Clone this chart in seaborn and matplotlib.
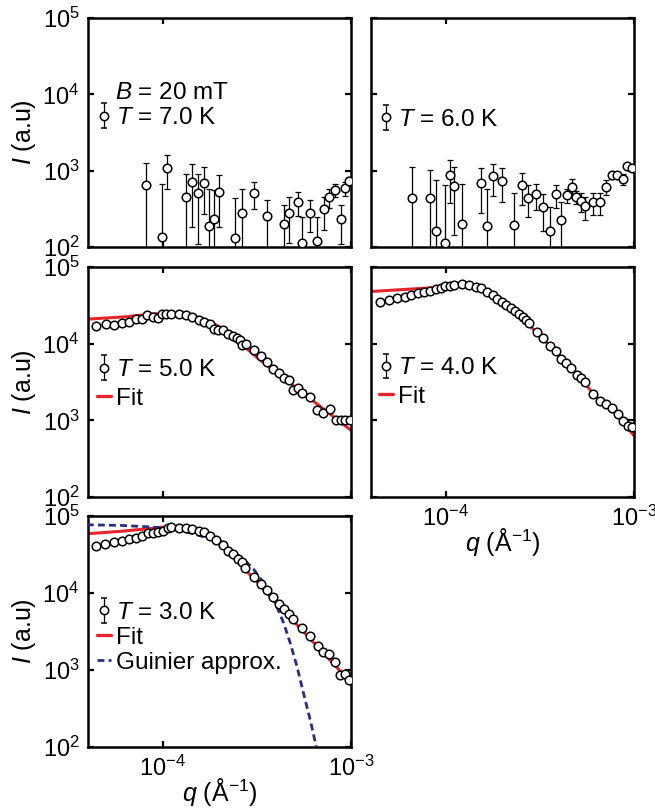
import numpy as np
import matplotlib
matplotlib.use("Agg")
import matplotlib.pyplot as plt
import seaborn as sns
from matplotlib.lines import Line2D
from matplotlib.ticker import NullLocator, FixedLocator

# ---------------- data (q in units of 1e-4 1/Angstrom) ----------------
q_7K = [0.818, 0.989, 1.047, 1.321, 1.432, 1.542, 1.660, 1.750, 1.871, 1.995, 2.421, 2.649, 3.041,
        3.573, 4.395, 4.677, 5.248, 5.495, 6.053, 6.607, 7.145, 7.674, 8.222, 8.810, 9.333, 9.795]
I_7K = [643, 135, 1084, 452, 708, 510, 693, 188, 230, 525, 131, 279, 515,
        255, 198, 282, 389, 114, 282, 119, 310, 452, 564, 230, 590, 725]
err_7K = [616, 541, 505, 460, 525, 402, 424, 393, 322, 344, 312, 302, 196,
          162, 154, 170, 136, 133, 126, 128, 142, 129, 112, 122, 121, 101]

q_6K = [0.659, 0.822, 0.889, 0.991, 1.047, 1.104, 1.216, 1.542, 1.652, 1.770, 1.986, 2.307, 2.535,
        2.742, 3.020, 3.281, 3.573, 3.846, 4.102, 4.406, 4.656, 4.909, 5.200, 5.508, 6.026, 6.561,
        7.129, 7.638, 8.147, 8.750, 9.226, 9.772]
I_6K = [434, 434, 160, 114, 887, 631, 198, 682, 188, 851, 732, 194, 645,
        443, 490, 331, 160, 490, 226, 477, 618, 452, 400, 340, 389, 389,
        611, 871, 871, 777, 1140, 1090]
err_6K = [683, 597, 587, 528, 506, 486, 478, 401, 393, 385, 340, 321, 286,
          199, 186, 169, 174, 166, 163, 104, 167, 85, 115, 112, 126, 126,
          136, 90, 80, 135, 60, 60]

q_5K = [0.440, 0.497, 0.548, 0.605, 0.661, 0.718, 0.773, 0.822, 0.885, 0.940, 0.991, 1.042, 1.107,
        1.211, 1.321, 1.429, 1.549, 1.656, 1.774, 1.871, 1.972, 2.089, 2.213, 2.350, 2.477, 2.582,
        2.649, 2.754, 3.041, 3.327, 3.581, 3.855, 4.130, 4.416, 4.710, 4.932, 5.236, 5.508, 6.053,
        6.622, 7.129, 7.727, 8.318, 8.810, 9.333, 9.840]
I_5K = [16800, 18200, 17500, 18400, 19200, 21200, 20700, 23700, 22300, 21800, 24100, 24600, 24600,
        24600, 23700, 22300, 20600, 19400, 18200, 15500, 15300, 15300, 13500, 12600, 12000, 11000,
        9500, 9800, 8330, 6960, 5700, 4720, 4100, 3530, 3320, 2510, 2630, 2280, 2010,
        1380, 1250, 1410, 1020, 1000, 1000, 1000]
qfit_5K = [0.398, 0.631, 0.891, 1.122, 1.413, 1.778, 2.239, 2.692, 3.162, 3.981, 5.012, 6.310, 7.943, 10.0]
Ifit_5K = [20900, 22400, 24500, 25100, 24000, 19500, 14100, 9330, 6610, 4270, 2750, 1780, 1150, 741]

q_4K = [0.444, 0.498, 0.551, 0.603, 0.655, 0.710, 0.764, 0.822, 0.881, 0.938, 0.995, 1.050, 1.107,
        1.222, 1.324, 1.439, 1.542, 1.660, 1.770, 1.875, 1.986, 2.094, 2.218, 2.339, 2.443, 2.559,
        2.667, 2.773, 3.062, 3.281, 3.556, 3.846, 4.074, 4.345, 4.645, 4.955, 5.200, 5.495, 6.026,
        6.561, 7.129, 7.674, 8.222, 8.770, 9.290, 9.795]
I_4K = [34800, 37600, 39200, 40800, 43400, 45200, 47000, 48900, 50900, 53500, 55800, 56900, 57500,
        59900, 58700, 54700, 53100, 47500, 42600, 38500, 35200, 32100, 29000, 26800, 24500, 22400,
        20400, 18600, 14400, 11700, 9220, 8010, 6230, 5580, 4750, 3890, 3550, 3150, 2210,
        1810, 1620, 1470, 1200, 980, 851, 809]
qfit_4K = [0.398, 0.631, 1.0, 1.259, 1.413, 1.660, 1.995, 2.512, 3.162, 3.981, 5.012, 6.310, 7.943, 10.0]
Ifit_4K = [47900, 51300, 55000, 57500, 56200, 47900, 35500, 22400, 12600, 7080, 3890, 2000, 1250, 631]

q_3K = [0.440, 0.494, 0.548, 0.605, 0.662, 0.721, 0.776, 0.832, 0.885, 0.940, 1.000, 1.064, 1.107,
        1.211, 1.321, 1.429, 1.549, 1.656, 1.774, 1.923, 2.089, 2.228, 2.360, 2.518, 2.636, 2.748,
        3.041, 3.311, 3.581, 3.855, 4.130, 4.416, 4.710, 4.932, 5.508, 6.053, 6.637, 7.129, 7.674,
        8.260, 8.730, 9.333, 9.795]
I_3K = [41200, 43700, 45500, 47800, 50300, 52300, 55600, 60100, 60100, 62000, 63800, 69800, 71900,
        70600, 69800, 67100, 63800, 62000, 55600, 48300, 41600, 35500, 32400, 27900, 25300, 21100,
        16200, 13200, 11000, 8870, 7260, 6130, 5280, 4550, 3480, 2740, 2050, 1710, 1600,
        1270, 853, 895, 734]
qfit_3K = [0.398, 0.589, 0.794, 1.0, 1.175, 1.413, 1.660, 1.995, 2.399, 2.818, 3.162, 3.548, 3.981,
           5.012, 6.310, 7.943, 10.0]
Ifit_3K = [58900, 63100, 67600, 71600, 73300, 70000, 61700, 49000, 31600, 18600, 14100, 10200, 7410,
           4170, 2290, 1260, 676]
qguin_3K = [0.394, 0.593, 0.891, 1.140, 1.455, 1.786, 2.188, 2.685, 3.034, 3.428, 3.882, 4.385, 4.753,
            5.164, 5.598, 6.081, 6.546]
Iguin_3K = [76900, 75500, 71800, 66800, 58700, 50500, 39300, 27600, 20400, 13600, 8260, 4080, 2240,
            1110, 494, 221, 99]

labels_T = ["7.0", "6.0", "5.0", "4.0", "3.0"]
Q_UNIT = 1e-4

# ---------------- style ----------------
sns.set_theme(style="ticks")
plt.rcParams.update({
    "font.family": ["Liberation Sans", "DejaVu Sans"],
    "mathtext.fontset": "custom",
    "mathtext.rm": "Liberation Sans",
    "mathtext.it": "Liberation Sans:italic",
    "mathtext.bf": "Liberation Sans:bold",
    "axes.unicode_minus": False,
    "axes.edgecolor": "black",
    "axes.linewidth": 1.8,
    "xtick.color": "black",
    "ytick.color": "black",
    "text.color": "black",
    "axes.labelcolor": "black",
})

RED = "#e8242b"
NAVY = "#27307f"
FS_TICK = 17
FS_LEG = 17.5
FS_LAB = 18

fig = plt.figure(figsize=(6.55, 8.08), dpi=100)
W, H = 655.0, 808.0
def pos(l, t, r, b):
    return [l / W, 1 - b / H, (r - l) / W, (b - t) / H]

ax1 = fig.add_axes(pos(88, 18, 351, 247))
ax2 = fig.add_axes(pos(371, 18, 634, 247))
ax3 = fig.add_axes(pos(88, 267, 351, 497))
ax4 = fig.add_axes(pos(371, 267, 634, 497))
ax5 = fig.add_axes(pos(88, 516, 351, 747))

mk = dict(marker="o", s=38, color="white", edgecolor="black", linewidth=1.1, zorder=6, legend=False)

def eb_proxy(ax):
    return ax.errorbar([np.nan], [np.nan], yerr=[np.nan], fmt="o", mfc="white", mec="black",
                       ms=6, mew=1.1, ecolor="black", elinewidth=0.9, capsize=2.2, capthick=0.9)

def setup(ax, xlab, ylab):
    ax.set_xscale("log")
    ax.set_yscale("log")
    ax.set_xlim(4e-5, 1e-3)
    ax.set_ylim(1e2, 1e5)
    ax.xaxis.set_major_locator(FixedLocator([1e-4, 1e-3]))
    ax.yaxis.set_major_locator(FixedLocator([1e2, 1e3, 1e4, 1e5]))
    ax.xaxis.set_minor_locator(NullLocator())
    ax.yaxis.set_minor_locator(NullLocator())
    ax.tick_params(which="both", direction="in", top=True, right=True, length=4.5, width=1.6,
                   labelsize=FS_TICK, labelbottom=xlab, labelleft=ylab, pad=6)
    for s in ax.spines.values():
        s.set_linewidth(1.8)
    ax.set_xlabel("")
    ax.set_ylabel("")
    if ylab:
        ax.set_ylabel(r"$\mathit{I}$ (a.u)", fontsize=FS_LAB)
        ax.yaxis.set_label_coords(-0.19, 0.5)
    if xlab:
        ax.set_xlabel(r"$\mathit{q}$ (Å$^{\mathregular{-1}}$)", fontsize=FS_LAB)
        ax.xaxis.set_label_coords(0.5, -0.125)

def tlabel(t):
    return r"$\mathit{T}$ = " + t + " K"

leg_kw = dict(loc="upper left", frameon=False, handlelength=0.58, handletextpad=0.2,
              borderpad=0, borderaxespad=0, fontsize=FS_LEG)

# Panel 1: 7 K
q = np.array(q_7K) * Q_UNIT
I = np.array(I_7K, float)
e = np.array(err_7K, float)
ax1.errorbar(q, I, yerr=[np.minimum(e, I * 0.999), e], fmt="none", ecolor="black",
             elinewidth=0.9, capsize=2.2, capthick=0.9, zorder=3)
sns.scatterplot(x=q, y=I, ax=ax1, **mk)
setup(ax1, False, True)
ax1.legend([eb_proxy(ax1)], [tlabel(labels_T[0])], bbox_to_anchor=(0.034, 0.611),
           labelspacing=0.27, **leg_kw)
ax1.text(0.103, 0.672, r"$\mathit{B}$ = 20 mT", transform=ax1.transAxes, fontsize=FS_LEG,
         va="center", ha="left")

# Panel 2: 6 K
q = np.array(q_6K) * Q_UNIT
I = np.array(I_6K, float)
e = np.array(err_6K, float)
ax2.errorbar(q, I, yerr=[np.minimum(e, I * 0.999), e], fmt="none", ecolor="black",
             elinewidth=0.9, capsize=2.2, capthick=0.9, zorder=3)
sns.scatterplot(x=q, y=I, ax=ax2, **mk)
setup(ax2, False, False)
ax2.legend([eb_proxy(ax2)], [tlabel(labels_T[1])], bbox_to_anchor=(0.03, 0.603),
           labelspacing=0.27, **leg_kw)

fit_proxy = Line2D([], [], color=RED, lw=2.4)
guin_proxy = Line2D([], [], color=NAVY, lw=2.0, linestyle=(0, (2.5, 1.5)))

# Panel 3: 5 K
sns.lineplot(x=np.array(qfit_5K) * Q_UNIT, y=Ifit_5K, ax=ax3, color=RED, lw=2.2,
             sort=False, estimator=None, zorder=2)
sns.scatterplot(x=np.array(q_5K) * Q_UNIT, y=I_5K, ax=ax3, **mk)
setup(ax3, False, True)
ax3.legend([eb_proxy(ax3), fit_proxy], [tlabel(labels_T[2]), "Fit"], bbox_to_anchor=(0.034, 0.60),
           labelspacing=0.27, **leg_kw)

# Panel 4: 4 K
sns.lineplot(x=np.array(qfit_4K) * Q_UNIT, y=Ifit_4K, ax=ax4, color=RED, lw=2.2,
             sort=False, estimator=None, zorder=2)
sns.scatterplot(x=np.array(q_4K) * Q_UNIT, y=I_4K, ax=ax4, **mk)
setup(ax4, True, False)
ax4.legend([eb_proxy(ax4), fit_proxy], [tlabel(labels_T[3]), "Fit"], bbox_to_anchor=(0.03, 0.608),
           labelspacing=0.27, **leg_kw)

# Panel 5: 3 K
sns.lineplot(x=np.array(qfit_3K) * Q_UNIT, y=Ifit_3K, ax=ax5, color=RED, lw=2.2,
             sort=False, estimator=None, zorder=2)
sns.lineplot(x=np.array(qguin_3K) * Q_UNIT, y=Iguin_3K, ax=ax5, color=NAVY, lw=2.0,
             linestyle=(0, (2.5, 1.5)), sort=False, estimator=None, zorder=3)
sns.scatterplot(x=np.array(q_3K) * Q_UNIT, y=I_3K, ax=ax5, **mk)
setup(ax5, True, True)
ax5.legend([eb_proxy(ax5), fit_proxy, guin_proxy], [tlabel(labels_T[4]), "Fit", "Guinier approx."],
           bbox_to_anchor=(0.034, 0.628), labelspacing=0.12, **leg_kw)

fig.savefig("out.png", dpi=100)
